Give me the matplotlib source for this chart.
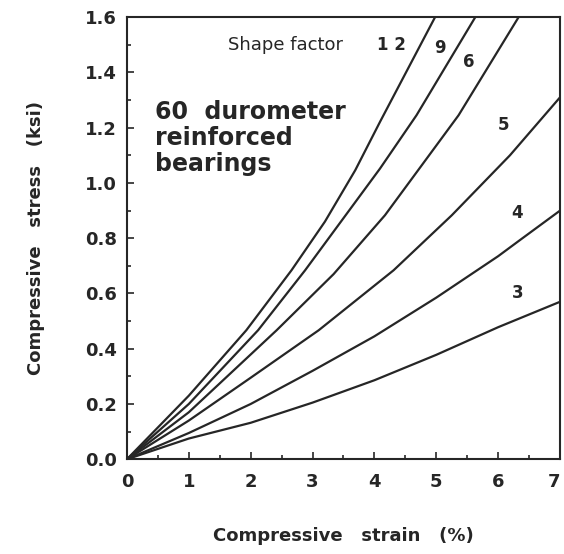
import numpy as np
from matplotlib import pyplot as plt
from matplotlib.ticker import MultipleLocator

# strain (%) vs stress (ksi), one curve per shape factor
strain_3 = [0, 1, 2, 3, 4, 5, 6, 7]
stress_3 = [0, 0.075, 0.132, 0.205, 0.286, 0.378, 0.478, 0.57]

strain_4 = [0, 1, 2, 3, 4, 5, 6, 6.35, 7]
stress_4 = [0, 0.095, 0.2, 0.32, 0.445, 0.585, 0.735, 0.793, 0.9]

strain_5 = [0, 1, 2, 3.1, 4.31, 5.25, 6.19, 7]
stress_5 = [0, 0.14, 0.295, 0.467, 0.684, 0.883, 1.10, 1.31]

strain_6 = [0, 1, 2.42, 3.34, 4.17, 5.36, 6.33]
stress_6 = [0, 0.17, 0.467, 0.67, 0.883, 1.245, 1.6]

strain_9 = [0, 1, 2.12, 2.88, 4.09, 4.68, 5.63]
stress_9 = [0, 0.2, 0.467, 0.684, 1.052, 1.245, 1.6]

strain_12 = [0, 1, 1.93, 2.66, 3.2, 3.69, 4.09, 4.98]
stress_12 = [0, 0.23, 0.467, 0.684, 0.86, 1.046, 1.221, 1.6]

curve_labels = ["1 2", "9", "6", "5", "4", "3"]
label_x = [4.27, 5.06, 5.52, 6.09, 6.30, 6.32]
label_y = [1.50, 1.487, 1.438, 1.209, 0.89, 0.60]

ink = "#262626"

fig = plt.figure(figsize=(5.64, 5.54), dpi=100)
ax = fig.add_axes([0.225, 0.171, 0.768, 0.798])

for sx, sy in [(strain_3, stress_3), (strain_4, stress_4), (strain_5, stress_5),
               (strain_6, stress_6), (strain_9, stress_9), (strain_12, stress_12)]:
    ax.plot(sx, sy, color=ink, lw=1.6, solid_capstyle="round")

ax.set_xlim(0, 7)
ax.set_ylim(0, 1.6)
ax.set_xticks(range(8))
ax.xaxis.set_minor_locator(MultipleLocator(0.5))
ax.yaxis.set_minor_locator(MultipleLocator(0.1))
ax.set_yticks(np.arange(0, 1.61, 0.2))
ax.set_yticklabels(["%.1f" % v for v in np.arange(0, 1.61, 0.2)])

ax.tick_params(which="both", direction="in", color=ink, width=1.2,
               labelsize=13, labelcolor=ink)
ax.tick_params(which="major", length=5)
ax.tick_params(axis="x", which="major", pad=10)
ax.tick_params(axis="y", which="major", pad=7)
ax.tick_params(which="minor", length=3)
for lab in ax.get_xticklabels() + ax.get_yticklabels():
    lab.set_fontweight("bold")
# the "7" sits flush with the right edge in the original
ax.xaxis.get_major_ticks()[-1].label1.set_horizontalalignment("right")
for s in ax.spines.values():
    s.set_color(ink)
    s.set_linewidth(1.5)

ax.set_xlabel("Compressive   strain   (%)", fontsize=13, fontweight="bold",
              color=ink, labelpad=26)
ax.set_ylabel("Compressive   stress   (ksi)", fontsize=13, fontweight="bold",
              color=ink, labelpad=29)

ax.text(2.56, 1.50, "Shape factor", fontsize=13, color=ink,
        ha="center", va="center")
for lbl, lx, ly in zip(curve_labels, label_x, label_y):
    ax.text(lx, ly, lbl, fontsize=12, fontweight="bold", color=ink,
            ha="center", va="center")

ax.text(0.45, 1.30, "60  durometer\nreinforced\nbearings", fontsize=17,
        fontweight="bold", color=ink, ha="left", va="top", linespacing=1.1)

fig.savefig("out.png", dpi=100)
